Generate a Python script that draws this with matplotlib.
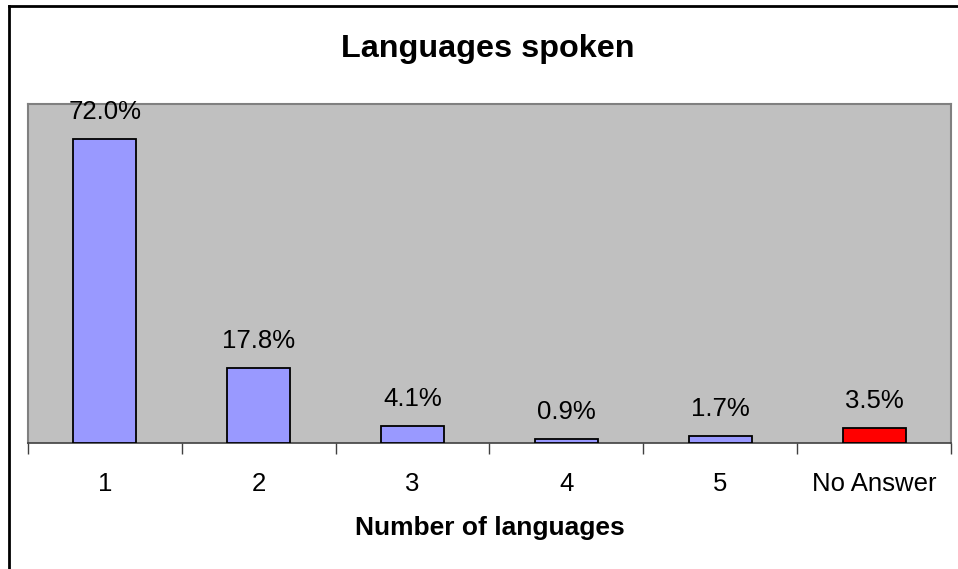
import matplotlib.pyplot as plt
import numpy as np
from matplotlib.lines import Line2D

categories = ["1", "2", "3", "4", "5", "No Answer"]
values = [72.0, 17.8, 4.1, 0.9, 1.7, 3.5]
colors = ["#9999FF"] * 5 + ["#FF0000"]

W, H = 958, 569
fig = plt.figure(figsize=(W / 100, H / 100), dpi=100)
plt.rcParams["font.family"] = ["Liberation Sans", "DejaVu Sans"]

ax = fig.add_axes([28 / W, 1 - 443 / H, (951 - 28) / W, (443 - 104) / H])
ax.set_facecolor("#C0C0C0")

x = np.arange(len(categories))
ax.bar(x, values, width=0.41, color=colors, edgecolor="black", linewidth=1.3, zorder=3)
for xi, v in zip(x, values):
    ax.annotate(f"{v:.1f}%", (xi, v), xytext=(0, 14.4), textcoords="offset points",
                ha="center", va="baseline", fontsize=18.5)

ax.set_xlim(-0.5, len(categories) - 0.5)
ax.set_ylim(0, 80.3)
ax.set_yticks([])
ax.set_xticks(np.arange(len(categories) + 1) - 0.5, minor=True)
ax.set_xticks(x)
ax.set_xticklabels(categories, fontsize=18.5)
ax.tick_params(axis="x", which="major", length=0, pad=21)
ax.tick_params(axis="x", which="minor", length=8, width=1, color="#404040")

for side in ["top", "right", "left"]:
    ax.spines[side].set_color("#808080")
    ax.spines[side].set_linewidth(1.5)
ax.spines["bottom"].set_color("#404040")
ax.spines["bottom"].set_linewidth(1.2)

ax.set_xlabel("Number of languages", fontsize=19, fontweight="bold", labelpad=14)
fig.text(488 / W, 1 - 57 / H, "Languages spoken", ha="center", va="baseline",
         fontsize=23.3, fontweight="bold")

# outer chart border (only left and top visible in frame)
fig.add_artist(Line2D([8.5 / W, 8.5 / W], [0, 1 - 5.5 / H], color="black", linewidth=2))
fig.add_artist(Line2D([8.5 / W, 1], [1 - 5.5 / H, 1 - 5.5 / H], color="black", linewidth=2))

fig.savefig("out.png", dpi=100)
